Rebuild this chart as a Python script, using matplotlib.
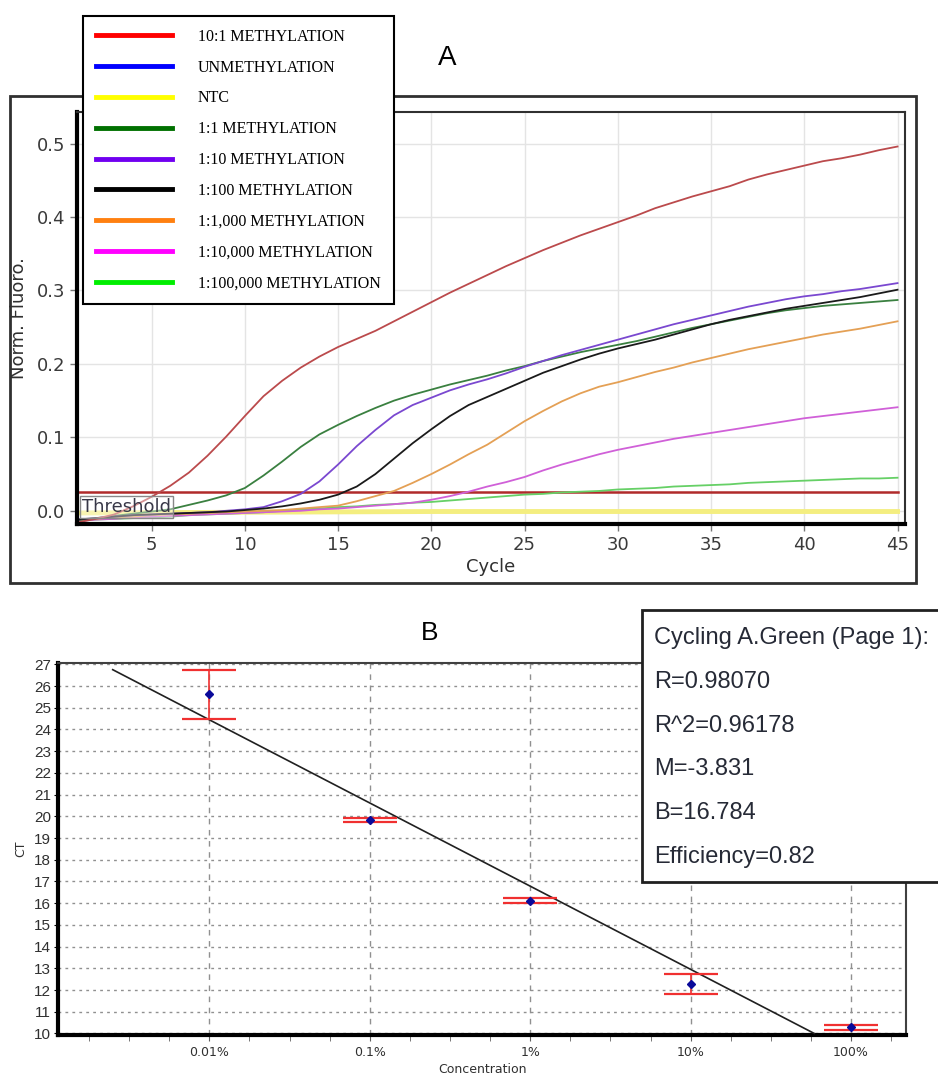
import matplotlib.pyplot as plt
from matplotlib.lines import Line2D
from matplotlib.patches import Rectangle
from matplotlib.ticker import FixedLocator, NullFormatter
import numpy as np

W, H = 938, 1078

# ---- panel A: amplification curves (Norm. Fluoro. per cycle) ----
cycles = list(range(1, 46))

meth_10_1 = [-0.016, -0.011, -0.005, 0.006, 0.019, 0.034, 0.052, 0.075, 0.101, 0.129,
             0.156, 0.177, 0.195, 0.210, 0.223, 0.234, 0.245, 0.258, 0.271, 0.284,
             0.297, 0.309, 0.321, 0.333, 0.344, 0.355, 0.365, 0.375, 0.384, 0.393,
             0.402, 0.412, 0.420, 0.428, 0.435, 0.442, 0.451, 0.458, 0.464, 0.470,
             0.476, 0.480, 0.485, 0.491, 0.496]
meth_1_1 = [-0.013, -0.010, -0.007, -0.004, -0.001, 0.002, 0.008, 0.014, 0.021, 0.031,
            0.048, 0.067, 0.087, 0.104, 0.117, 0.129, 0.140, 0.150, 0.158, 0.165,
            0.172, 0.178, 0.184, 0.191, 0.197, 0.204, 0.210, 0.216, 0.221, 0.226,
            0.231, 0.237, 0.243, 0.249, 0.254, 0.259, 0.264, 0.269, 0.273, 0.276,
            0.279, 0.281, 0.283, 0.285, 0.287]
meth_1_10 = [-0.012, -0.010, -0.008, -0.006, -0.005, -0.004, -0.003, -0.002, 0.000, 0.002,
             0.005, 0.013, 0.023, 0.040, 0.063, 0.088, 0.110, 0.130, 0.144, 0.154,
             0.164, 0.172, 0.179, 0.187, 0.196, 0.204, 0.212, 0.219, 0.226, 0.233,
             0.240, 0.247, 0.254, 0.260, 0.266, 0.272, 0.278, 0.283, 0.288, 0.292,
             0.295, 0.299, 0.302, 0.306, 0.310]
meth_1_100 = [-0.012, -0.010, -0.008, -0.006, -0.005, -0.004, -0.003, -0.002, -0.001, 0.001,
              0.003, 0.006, 0.010, 0.015, 0.022, 0.033, 0.050, 0.071, 0.092, 0.111,
              0.129, 0.144, 0.155, 0.166, 0.177, 0.188, 0.197, 0.206, 0.214, 0.221,
              0.227, 0.233, 0.240, 0.247, 0.254, 0.260, 0.265, 0.270, 0.275, 0.279,
              0.283, 0.287, 0.291, 0.296, 0.301]
meth_1_1000 = [-0.013, -0.011, -0.009, -0.008, -0.006, -0.005, -0.004, -0.003, -0.002, -0.001,
               0.000, 0.001, 0.003, 0.005, 0.007, 0.013, 0.020, 0.027, 0.038, 0.050,
               0.063, 0.077, 0.090, 0.106, 0.122, 0.136, 0.149, 0.160, 0.169, 0.175,
               0.182, 0.189, 0.195, 0.202, 0.208, 0.214, 0.220, 0.225, 0.230, 0.235,
               0.240, 0.244, 0.248, 0.253, 0.258]
meth_1_10000 = [-0.014, -0.012, -0.011, -0.009, -0.008, -0.007, -0.006, -0.005, -0.004, -0.003,
                -0.002, -0.001, 0.000, 0.002, 0.003, 0.005, 0.007, 0.009, 0.011, 0.015,
                0.020, 0.026, 0.033, 0.039, 0.046, 0.055, 0.063, 0.070, 0.077, 0.083,
                0.088, 0.093, 0.098, 0.102, 0.106, 0.110, 0.114, 0.118, 0.122, 0.126,
                0.129, 0.132, 0.135, 0.138, 0.141]
meth_1_100000 = [-0.013, -0.012, -0.011, -0.010, -0.009, -0.008, -0.006, -0.005, -0.004, -0.003,
                 -0.002, 0.000, 0.002, 0.003, 0.005, 0.006, 0.008, 0.009, 0.011, 0.012,
                 0.014, 0.016, 0.018, 0.020, 0.022, 0.023, 0.025, 0.026, 0.027, 0.029,
                 0.030, 0.031, 0.033, 0.034, 0.035, 0.036, 0.038, 0.039, 0.040, 0.041,
                 0.042, 0.043, 0.044, 0.044, 0.045]
flat_cycles = [1, 10, 20, 30, 45]
ntc = [-0.003, -0.002, -0.001, -0.001, -0.001]
unmeth = [-0.003, -0.002, -0.001, -0.001, -0.001]
threshold = 0.026

labels = ['10:1 METHYLATION', 'UNMETHYLATION', 'NTC', '1:1 METHYLATION',
          '1:10 METHYLATION', '1:100 METHYLATION', '1:1,000 METHYLATION',
          '1:10,000 METHYLATION', '1:100,000 METHYLATION']
legend_colors = ['#ff0000', '#0000ff', '#ffff00', '#007000', '#7000f0',
                 '#000000', '#ff8010', '#ff00ff', '#00ee00']

# ---- panel B: standard curve ----
conc = [0.01, 0.1, 1, 10, 100]          # percent
ct = [25.62, 19.85, 16.12, 12.30, 10.30]
ct_hi = [26.75, 19.94, 16.24, 12.73, 10.41]
ct_lo = [24.47, 19.76, 15.99, 11.81, 10.15]
M, B = -3.831, 16.784
fit_ends = [0.0025, 59]
stats = ['Cycling A.Green (Page 1):', 'R=0.98070', 'R^2=0.96178',
         'M=-3.831', 'B=16.784', 'Efficiency=0.82']


def fx(px):
    return px / W


def fy(py):
    return 1 - py / H


fig = plt.figure(figsize=(W / 100, H / 100), dpi=100)

# outer frame of panel A
fig.add_artist(Rectangle((fx(10), fy(583)), fx(906), (583 - 96) / H, transform=fig.transFigure,
                         fill=False, ec='#303030', lw=2, zorder=0))

ax = fig.add_axes([fx(77), fy(524), (905 - 77) / W, (524 - 112) / H])
ax.plot(flat_cycles, unmeth, color='#3040d0', lw=1.2)
ax.plot(flat_cycles, ntc, color='#f4ee80', lw=3.5)
ax.plot([1, 45], [threshold, threshold], color='#b02a2a', lw=1.8)
ax.plot(cycles, meth_1_100000, color='#66d066', lw=1.3)
ax.plot(cycles, meth_1_10000, color='#d060d8', lw=1.3)
ax.plot(cycles, meth_1_1000, color='#e4a055', lw=1.3)
ax.plot(cycles, meth_1_1, color='#3a8040', lw=1.3)
ax.plot(cycles, meth_1_10, color='#7a48d0', lw=1.3)
ax.plot(cycles, meth_1_100, color='#1a1a1a', lw=1.3)
ax.plot(cycles, meth_10_1, color='#bb4a4c', lw=1.3)

ax.set_xlim(1, 45.4)
ax.set_ylim(-0.018, 0.543)
ax.set_xticks([5, 10, 15, 20, 25, 30, 35, 40, 45])
ax.set_yticks([0.0, 0.1, 0.2, 0.3, 0.4, 0.5])
ax.set_yticklabels(['0.0', '0.1', '0.2', '0.3', '0.4', '0.5'])
ax.grid(True, color='#e4e4e4', lw=1)
ax.set_axisbelow(True)
ax.tick_params(labelsize=13, labelcolor='#3a3a3a', color='#777', length=5, width=1)
for s in ['left', 'bottom']:
    ax.spines[s].set_linewidth(3)
    ax.spines[s].set_color('black')
for s in ['top', 'right']:
    ax.spines[s].set_linewidth(1.5)
    ax.spines[s].set_color('#303030')
ax.set_xlabel('Cycle', fontsize=13, color='#303030', labelpad=3)
ax.set_ylabel('Norm. Fluoro.', fontsize=13, color='#303030', labelpad=6)
ax.text(0.006, 0.042, 'Threshold', transform=ax.transAxes, fontsize=13, color='#383848',
        va='center', ha='left',
        bbox=dict(boxstyle='square,pad=0.12', fc=(1, 1, 1, 0.4), ec='#888', lw=1))

handles = [Line2D([], [], color=c, lw=3.5) for c in legend_colors]
leg = fig.legend(handles, labels, loc='upper left', bbox_to_anchor=(fx(83), fy(16)),
                 borderaxespad=0, frameon=True, fancybox=False, framealpha=1,
                 edgecolor='black', handlelength=4.75, handletextpad=1.65,
                 labelspacing=0.93, borderpad=0.8,
                 prop={'family': ['Liberation Serif', 'DejaVu Serif'], 'size': 11.5})
leg.get_frame().set_linewidth(1.5)
leg.set_zorder(10)

fig.text(fx(447), fy(58), 'A', fontsize=20, ha='center', va='center',
         family=['Liberation Sans', 'DejaVu Sans'])
fig.text(fx(430), fy(633), 'B', fontsize=19, ha='center', va='center',
         family=['Liberation Sans', 'DejaVu Sans'])

# ---- panel B ----
sans = ['Liberation Sans', 'DejaVu Sans']
ax2 = fig.add_axes([fx(58), fy(1035), (906 - 58) / W, (1035 - 663) / H])
ax2.set_xscale('log')
ax2.set_xlim(1.14e-3, 220)
ax2.set_ylim(9.93, 27.06)

fit_y = [M * np.log10(c) + B for c in fit_ends]
ax2.plot(fit_ends, fit_y, color='#202020', lw=1.2, zorder=3)

yerr = [np.array(ct) - np.array(ct_lo), np.array(ct_hi) - np.array(ct)]
ax2.errorbar(conc, ct, yerr=yerr, fmt='none', ecolor='#f03030', elinewidth=1.2,
             capsize=19.5, capthick=1.6, zorder=4)
ax2.plot(conc, ct, 'D', color='#0a0a9a', ms=4.5, zorder=5)

ax2.set_yticks(range(10, 28))
ax2.xaxis.set_major_locator(FixedLocator(conc))
ax2.set_xticklabels(['0.01%', '0.1%', '1%', '10%', '100%'])
minor = [10 ** (k / 4) for k in range(-12, 10) if k % 4 != 0]
ax2.xaxis.set_minor_locator(FixedLocator(minor))
ax2.xaxis.set_minor_formatter(NullFormatter())
ax2.grid(True, axis='y', color='#909090', ls=(0, (2, 3)), lw=1)
ax2.grid(True, axis='x', which='major', color='#909090', ls=(0, (4, 4)), lw=1)
ax2.tick_params(axis='y', labelsize=11, labelcolor='#303030', length=3, pad=2)
ax2.tick_params(axis='x', which='both', labelsize=9, labelcolor='#303030', length=4,
                color='#606060', pad=4)
for t in ax2.get_yticklabels():
    t.set_family(sans)
for s in ['left', 'bottom']:
    ax2.spines[s].set_linewidth(3)
    ax2.spines[s].set_color('black')
for s in ['top', 'right']:
    ax2.spines[s].set_linewidth(1.5)
    ax2.spines[s].set_color('#404040')
ax2.set_xlabel('Concentration', fontsize=9, color='#303030', labelpad=3)
ax2.set_ylabel('CT', fontsize=9, color='#303030', labelpad=5)

# statistics box
fig.add_artist(Rectangle((fx(642), fy(882)), fx(320), (882 - 610) / H, transform=fig.transFigure,
                         fc='white', ec='#202020', lw=2, zorder=8))
for i, s in enumerate(stats):
    fig.text(fx(654), fy(638 + i * 43.8), s, fontsize=17, color='#262a36',
             va='center', ha='left', family=sans, zorder=9)

fig.savefig('out.png', dpi=100)
